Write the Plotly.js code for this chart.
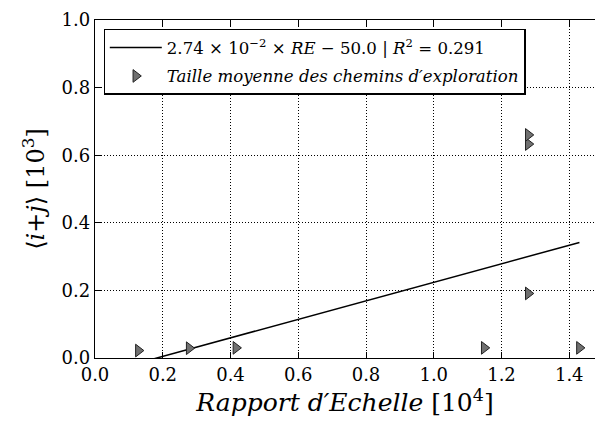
<!DOCTYPE html>
<html><head><meta charset="utf-8">
<script src="https://cdn.plot.ly/plotly-3.0.1.min.js"></script>
<style>html,body{margin:0;padding:0;background:#fff;}#chart{width:595px;height:427px;}</style>
</head><body><div id="chart"></div>
<script>
// Data (x in 10^4, y in 10^3)
const rapportEchelle = [0.128, 0.278, 0.416, 1.149, 1.279, 1.279, 1.279, 1.430];
const tailleMoyenne  = [0.022, 0.029, 0.030, 0.030, 0.191, 0.633, 0.660, 0.030];
// Fit: y = 2.74e-2 * RE - 50.0 (raw units)
const fitSlope = 2.74e-2;
const fitIntercept = -50.0;
const fitR2 = 0.291;
const xTicks = [0.0, 0.2, 0.4, 0.6, 0.8, 1.0, 1.2, 1.4];
const yTicks = [0.0, 0.2, 0.4, 0.6, 0.8, 1.0];

const xMin = Math.min(...rapportEchelle), xMax = Math.max(...rapportEchelle);
const fitX = [xMin, xMax];
const fitY = fitX.map(x => (fitSlope * x * 1e4 + fitIntercept) / 1e3);

const serif = '"DejaVu Serif", serif';
const traces = [
  {x: fitX, y: fitY, mode: 'lines', line: {color: '#000', width: 1.5}, legendgroup: 'a',
   name: '2.74 × 10<sup>−2</sup> × <i>RE</i> − 50.0 | <i>R</i><sup>2</sup> = ' + fitR2.toFixed(3), cliponaxis: true},
  {x: rapportEchelle, y: tailleMoyenne, mode: 'markers', legendgroup: 'b',
   marker: {symbol: 'triangle-right', size: 11, color: '#707070', line: {color: '#222', width: 1}},
   name: '<i>Taille moyenne des chemins d′exploration</i>', cliponaxis: false}
];
const layout = {
  width: 595, height: 427,
  margin: {l: 95, r: 0, t: 19.5, b: 69},
  paper_bgcolor: '#fff', plot_bgcolor: '#fff',
  font: {family: serif, color: '#000', size: 17},
  showlegend: true,
  legend: {x: 0.017, y: 0.974, xanchor: 'left', yanchor: 'top', bgcolor: '#fff',
           bordercolor: '#000', borderwidth: 1.3, font: {family: serif, size: 16.6},
           tracegroupgap: 4, itemwidth: 52},
  xaxis: {range: [0, 1.476], tickvals: xTicks, ticktext: xTicks.map(v => v.toFixed(1)),
          ticks: 'inside', ticklen: 6, tickcolor: '#000', showline: true, linecolor: '#000', linewidth: 1.3,
          mirror: 'ticks', showgrid: true, gridcolor: '#000', griddash: '1px,2px', gridwidth: 1, zeroline: false,
          tickfont: {family: serif, size: 18},
          title: {text: '<i>Rapport d′Echelle</i> [10<sup>4</sup>]', font: {family: serif, size: 25}, standoff: 8}},
  yaxis: {range: [0, 1.0], tickvals: yTicks, ticktext: yTicks.map(v => v.toFixed(1)),
          ticks: 'inside', ticklen: 6, tickcolor: '#000', showline: true, linecolor: '#000', linewidth: 1.3,
          showgrid: true, gridcolor: '#000', griddash: '1px,2px', gridwidth: 1, zeroline: false,
          tickfont: {family: serif, size: 18},
          title: {text: '⟨<i>i</i>+<i>j</i>⟩ [10<sup>3</sup>]', font: {family: serif, size: 24}, standoff: 10}}
};
Plotly.newPlot('chart', traces, layout, {staticPlot: true, displayModeBar: false});
</script></body></html>
